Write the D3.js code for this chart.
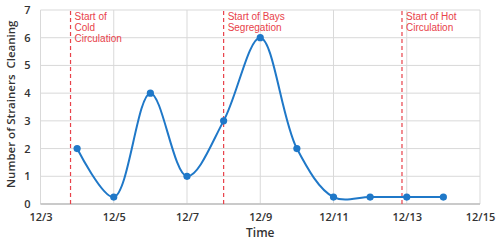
<!DOCTYPE html>
<html>
<head>
<meta charset="utf-8">
<script src="https://cdn.jsdelivr.net/npm/d3@7"></script>
<style>
  body { margin: 0; background: #fff; }
  svg text { font-family: "Open Sans", sans-serif; }
  svg text.note { font-family: "Liberation Sans Narrow", "Liberation Sans", sans-serif; }
</style>
</head>
<body>
<svg id="chart" width="500" height="243"></svg>
<script>
// day of December
var days = [4, 5, 6, 7, 8, 9, 10, 11, 12, 13, 14];
var cleanings = [2, 0.25, 4, 1, 3, 6, 2, 0.25, 0.25, 0.25, 0.25];
var xTicks = [3, 5, 7, 9, 11, 13, 15];
var yTicks = [0, 1, 2, 3, 4, 5, 6, 7];
var eventDays = [3.82, 8, 12.87];
var eventLabels = [["Start of", "Cold", "Circulation"], ["Start of Bays", "Segregation"], ["Start of Hot", "Circulation"]];

var svg = d3.select("#chart");
var m = { left: 40.5, right: 20, top: 10, bottom: 39 };
var W = 500, H = 243;

var x = d3.scaleLinear().domain([3, 15]).range([m.left, W - m.right]);
var y = d3.scaleLinear().domain([0, 7]).range([H - m.bottom, m.top]);

// grid
var g = svg.append("g");
g.selectAll("line.h").data(yTicks).enter().append("line")
  .attr("x1", x(3)).attr("x2", x(15))
  .attr("y1", function(d) { return y(d); }).attr("y2", function(d) { return y(d); })
  .attr("stroke", "#d9d9d9").attr("stroke-width", 1);
g.selectAll("line.v").data(xTicks).enter().append("line")
  .attr("y1", y(0)).attr("y2", y(7))
  .attr("x1", function(d) { return x(d); }).attr("x2", function(d) { return x(d); })
  .attr("stroke", "#d9d9d9").attr("stroke-width", 1);
g.append("line").attr("x1", x(3)).attr("x2", x(15)).attr("y1", y(0)).attr("y2", y(0))
  .attr("stroke", "#bfbfbf").attr("stroke-width", 1.5);

// axes
var xAxis = svg.append("g").attr("transform", "translate(0," + y(0) + ")")
  .call(d3.axisBottom(x).tickValues(xTicks).tickSize(0).tickPadding(9)
    .tickFormat(function(d) { return "12/" + d; }));
var yAxis = svg.append("g").attr("transform", "translate(" + x(3) + ",0)")
  .call(d3.axisLeft(y).tickValues(yTicks).tickSize(0).tickPadding(10).tickFormat(d3.format("d")));
[xAxis, yAxis].forEach(function(a) {
  a.select(".domain").remove();
  a.selectAll("text").attr("font-size", 11).attr("font-weight", 600).attr("fill", "#333");
});

svg.append("text").attr("x", x(9)).attr("y", 237).attr("text-anchor", "middle")
  .attr("font-size", 12).attr("font-weight", 600).attr("fill", "#333").text("Time");
svg.append("text").attr("transform", "translate(15," + y(3.6) + ") rotate(-90)")
  .attr("text-anchor", "middle").attr("font-size", 11.5).attr("font-weight", 600)
  .attr("fill", "#333").attr("xml:space", "preserve").text("Number of Strainers  Cleaning");

// event markers
var red = "#e8424a";
eventDays.forEach(function(d, i) {
  svg.append("line").attr("x1", x(d)).attr("x2", x(d)).attr("y1", y(0)).attr("y2", y(7))
    .attr("stroke", red).attr("stroke-width", 1.2).attr("stroke-dasharray", "4,3");
  eventLabels[i].forEach(function(s, j) {
    svg.append("text").attr("class", "note").attr("x", x(d) + 4).attr("y", 19.5 + j * 11.4)
      .attr("font-size", 10).attr("fill", red).text(s);
  });
});

// series
var pts = days.map(function(d, i) { return [d, cleanings[i]]; });
var line = d3.line().x(function(d) { return x(d[0]); }).y(function(d) { return y(d[1]); })
  .curve(d3.curveCatmullRom.alpha(0.5));
var blue = "#1f78c8";
svg.append("path").datum(pts).attr("d", line).attr("fill", "none")
  .attr("stroke", blue).attr("stroke-width", 2);
svg.selectAll("circle.pt").data(pts).enter().append("circle")
  .attr("cx", function(d) { return x(d[0]); }).attr("cy", function(d) { return y(d[1]); })
  .attr("r", 3.6).attr("fill", blue);
</script>
</body>
</html>
